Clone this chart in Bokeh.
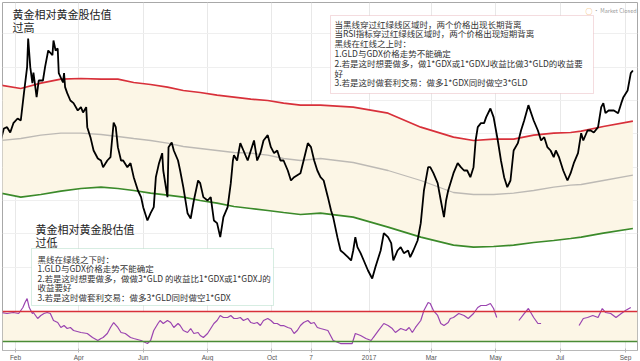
import math
import pandas as pd
from bokeh.plotting import figure
from bokeh.models import Range1d, FixedTicker, Span, BoxAnnotation, Label
from bokeh.embed import file_html
from bokeh.resources import INLINE

ORIGIN = pd.Timestamp("2016-02-01")
NAN = float("nan")

# axis ticks
tick_dates = ["2016-02-01", "2016-04-01", "2016-06-01", "2016-08-01", "2016-10-01",
              "2016-11-07", "2017-01-01", "2017-03-01", "2017-05-01", "2017-07-01",
              "2017-09-01"]
tick_labels = ["Feb", "Apr", "Jun", "Aug", "Oct", "7", "2017", "Mar", "May", "Jul", "Sep"]

# GLD / GDX ratio (days since 2016-02-01)
ratio_day = [-14, -11, -8, -5, -2, 2, 5, 8, 11, 12,
             14, 16, 17, 20, 22, 26, 28, 31, 35, 36,
             38, 40, 41, 45, 46, 47, 49, 52, 55, 59,
             62, 64, 67, 68, 71, 74, 78, 81, 83, 87,
             90, 93, 95, 97, 100, 102, 106, 109, 112, 116,
             119, 121, 125, 128, 131, 133, 136, 139, 140, 144,
             145, 148, 150, 154, 156, 159, 163, 166, 169, 173,
             175, 178, 182, 185, 188, 191, 194, 197, 201, 204,
             206, 207, 210, 213, 216, 220, 223, 226, 229, 232,
             235, 239, 242, 245, 248, 251, 254, 258, 261, 264,
             270, 273, 277, 280, 283, 286, 289, 292, 296, 299,
             301, 305, 308, 311, 315, 318, 320, 322, 324, 327,
             330, 334, 338, 341, 346, 349, 353, 356, 358, 362,
             365, 368, 372, 374, 377, 381, 384, 387, 391, 393,
             396, 400, 403, 406, 408, 410, 415, 419, 422, 425,
             428, 431, 434, 436, 438, 441, 444, 446, 450, 453,
             457, 460, 463, 466, 469, 472, 476, 479, 482, 486,
             491, 495, 498, 501, 504, 507, 510, 512, 515, 519,
             523, 526, 529, 533, 536, 538, 542, 545, 548, 552,
             555, 557, 559, 562, 567, 571, 574, 576, 580, 583,
             585]
ratio = [5.40, 5.58, 5.60, 5.52, 5.66, 5.73, 5.70, 6.11, 6.50, 6.93,
         6.50, 6.26, 6.42, 6.05, 6.30, 6.30, 6.50, 6.75, 6.68, 6.90,
         6.75, 6.78, 6.41, 6.27, 6.41, 6.20, 6.11, 6.00, 5.96, 5.85,
         5.90, 5.82, 5.90, 5.60, 5.45, 5.25, 5.13, 5.10, 5.00, 5.10,
         5.15, 5.67, 5.60, 5.30, 5.10, 5.10, 5.00, 5.06, 4.85, 4.65,
         4.55, 4.40, 4.20, 4.31, 4.40, 4.85, 5.06, 5.21, 4.95, 4.55,
         5.30, 5.37, 5.25, 5.10, 4.95, 4.70, 4.31, 4.23, 4.50, 4.80,
         4.76, 4.55, 4.50, 4.55, 4.20, 4.16, 3.95, 4.25, 4.40, 4.76,
         5.10, 5.18, 5.10, 5.36, 5.25, 5.10, 5.25, 5.40, 5.10, 5.21,
         5.40, 5.48, 5.30, 5.21, 5.25, 5.10, 5.10, 4.95, 4.80, 4.85,
         4.91, 5.10, 5.36, 5.30, 5.10, 4.95, 4.85, 4.80, 4.55, 4.35,
         4.25, 3.95, 3.75, 3.71, 3.65, 3.60, 3.75, 3.95, 3.80, 3.71,
         3.60, 3.45, 3.33, 3.50, 3.75, 4.01, 3.95, 3.86, 3.60, 3.75,
         3.80, 3.71, 3.75, 3.65, 3.75, 3.90, 4.16, 4.65, 5.00, 5.00,
         4.91, 4.76, 4.50, 4.25, 4.50, 4.65, 4.91, 5.06, 5.00, 4.95,
         4.95, 4.85, 5.00, 5.40, 5.60, 5.66, 5.66, 5.75, 5.88, 5.75,
         5.40, 5.10, 4.85, 4.70, 4.80, 5.25, 5.36, 5.55, 5.70, 5.93,
         5.70, 5.55, 5.40, 5.45, 5.30, 5.25, 5.15, 5.25, 5.15, 4.95,
         4.80, 4.91, 5.06, 5.21, 5.51, 5.40, 5.55, 5.55, 5.52, 5.60,
         5.90, 5.96, 5.81, 5.85, 5.85, 5.81, 5.96, 6.05, 6.15, 6.41,
         6.45]

# valuation band: upper (red), middle (grey), lower (green)
band_day = [-14, 5, 24, 43, 62, 81, 97, 112, 128, 144,
            159, 175, 191, 207, 223, 239, 254, 270, 289, 320,
            353, 384, 415, 434, 453, 472, 491, 510, 526, 536,
            557, 585]
band_upper = [6.23, 6.18, 6.26, 6.32, 6.33, 6.32, 6.32, 6.27, 6.24, 6.20,
              6.15, 6.12, 6.08, 6.05, 6.02, 6.00, 5.96, 5.93, 5.93, 5.90,
              5.81, 5.60, 5.45, 5.40, 5.42, 5.42, 5.48, 5.51, 5.52, 5.54,
              5.61, 5.69]
band_mid = [5.40, 5.43, 5.48, 5.51, 5.51, 5.49, 5.46, 5.43, 5.40, 5.36,
            5.31, 5.28, 5.25, 5.22, 5.21, 5.18, 5.13, 5.10, 5.13, 5.07,
            4.95, 4.80, 4.62, 4.59, 4.59, 4.61, 4.65, 4.70, 4.73, 4.74,
            4.80, 4.88]
band_lower = [4.61, 4.55, 4.59, 4.64, 4.68, 4.70, 4.68, 4.65, 4.61, 4.58,
              4.55, 4.50, 4.46, 4.41, 4.38, 4.35, 4.32, 4.29, 4.31, 4.25,
              4.10, 3.95, 3.83, 3.80, 3.81, 3.83, 3.87, 3.90, 3.93, 3.95,
              4.01, 4.08]

# RSI of the ratio (NaN = no data)
rsi_day = [-14, -8, -2, 3, 7, 9, 11, 13, 16, 17,
           21, 24, 27, 30, 33, 36, 40, 43, 46, 49,
           52, 55, 62, 68, 73, 78, 81, 83, 87, 90,
           93, 97, 100, 104, 109, 112, 119, 125, 128, 131,
           135, 137, 140, 144, 147, 150, 154, 156, 159, 163,
           166, 169, 173, 175, 178, 182, 185, 188, 191, 194,
           197, 201, 204, 207, 210, 213, 216, 220, 223, 226,
           229, 232, 235, 239, 242, 245, 248, 251, 254, 258,
           261, 264, 267, 270, 273, 277, 280, 283, 286, 289,
           296, 301, 308, 315, 319, 322, 327, 332, 337, 339,
           344, 349, 353, 357, 360, 365, 370, 373, 376, 379,
           384, 387, 391, 393, 396, 400, 403, 406, 410, 412,
           415, 420, 425, 429, 434, 438, 441, 446, 450, 453,
           456, NAN, 477, 482, 486, 491, 495, 498, NAN, 534,
           538, 542, 547, 552, 556, 559, 564, 569, 574, 578,
           583]
rsi = [68.7, 67.3, 68.7, 67.3, 75.3, 82.0, 87.3, 75.3, 67.3, 68.7,
       60.7, 64.7, 67.3, 68.7, 67.3, 58.0, 55.3, 48.7, 51.3, 47.3,
       48.7, 44.7, 42.0, 40.7, 35.3, 31.3, 34.0, 35.3, 40.7, 48.7,
       55.3, 48.7, 42.0, 40.7, 35.3, 34.0, 31.3, 27.3, 31.3, 44.7,
       54.0, 58.0, 54.0, 58.0, 55.3, 48.7, 54.0, 51.3, 44.7, 42.0,
       47.3, 40.7, 42.0, 38.0, 35.3, 40.7, 47.3, 54.0, 58.0, 64.7,
       62.0, 62.0, 64.7, 60.7, 60.7, 62.0, 58.0, 60.7, 55.3, 54.0,
       55.3, 51.3, 58.0, 60.7, 58.0, 54.0, 54.0, 51.3, 51.3, 48.7,
       47.3, 40.7, 44.7, 51.3, 55.3, 58.0, 54.0, 55.3, 48.7, 47.3,
       44.7, 31.3, 27.3, 27.3, 27.3, 40.7, 38.0, 34.0, 31.3, 35.3,
       44.7, 54.0, 51.3, 47.3, 42.0, 47.3, 44.7, 48.7, 42.0, 48.7,
       58.0, 71.3, 82.0, 80.7, 71.3, 64.7, 54.0, 51.3, 55.3, 60.7,
       62.0, 67.3, 64.7, 60.7, 67.3, 75.3, 78.0, 78.0, 80.7, 74.0,
       62.0, NAN, 58.0, 67.3, 74.0, 62.0, 54.0, 54.0, NAN, 51.3,
       60.7, 62.0, 64.7, 62.0, 74.0, 68.7, 67.3, 62.0, 67.3, 71.3,
       75.3]
rsi_upper, rsi_lower = 70, 30

# --- layout helpers: page pixel -> data coordinate -------------------------
def sx(px):
    return (px - 15) * 578 / 610

def sy(py):
    return 7.5 - 0.015 * py

def sr(py):
    return 70 - (py - 311) * 4 / 3

CJK = "Noto Sans CJK SC"
BEIGE = "#fcf6e6"

tick_days = [(pd.Timestamp(d) - ORIGIN).days for d in tick_dates]

p = figure(frame_width=635, frame_height=348, min_border_left=2, min_border_right=3,
           min_border_top=2, min_border_bottom=0,
           x_range=Range1d(sx(2), sx(637)), y_range=Range1d(sy(350), sy(2)),
           output_backend="svg", toolbar_location=None, y_axis_location=None)
p.extra_y_ranges = {"rsi": Range1d(sr(350), sr(2))}
p.outline_line_color = "#a8a8a8"
p.background_fill_color = "white"
p.border_fill_color = "white"

ax = p.xaxis[0]
ax.ticker = FixedTicker(ticks=tick_days)
ax.major_label_overrides = {d: lab for d, lab in zip(tick_days, tick_labels)}
ax.major_label_text_font = "Liberation Sans"
ax.major_label_text_font_size = "6.5px"
ax.major_label_text_color = "#555555"
ax.major_label_standoff = 1
ax.axis_line_color = "#b8b8b8"
ax.major_tick_line_color = "#b8b8b8"
ax.major_tick_in = 2
ax.major_tick_out = 2
ax.minor_tick_line_color = None

p.xgrid.ticker = FixedTicker(ticks=tick_days)
p.xgrid.grid_line_color = "#e8e8e8"
p.ygrid.ticker = FixedTicker(ticks=[3.5, 4.0, 4.5, 5.0, 5.5, 6.0, 6.5, 7.0])
p.ygrid.grid_line_color = "#efefef"

# valuation band
p.varea(x=band_day, y1=band_lower, y2=band_upper, fill_color=BEIGE)
p.line(band_day, band_mid, line_color="#bdbab5", line_width=1.3)
p.line(band_day, band_upper, line_color="#d8303a", line_width=1.7)
p.line(band_day, band_lower, line_color="#3b8a2a", line_width=1.7)
p.line(ratio_day, ratio, line_color="black", line_width=1.8)

# RSI sub panel
p.add_layout(BoxAnnotation(bottom=rsi_lower, top=rsi_upper, y_range_name="rsi",
                           fill_color=BEIGE, fill_alpha=1, line_color=None,
                           level="underlay"))
p.add_layout(Span(location=rsi_upper, dimension="width", y_range_name="rsi",
                  line_color="#d8303a", line_width=1.5))
p.add_layout(Span(location=rsi_lower, dimension="width", y_range_name="rsi",
                  line_color="#4a8c36", line_width=1.5))
p.line(rsi_day, rsi, y_range_name="rsi", line_color="#9a44b0", line_width=1.2)

# annotation boxes
p.add_layout(BoxAnnotation(left=sx(330), right=sx(593), top=sy(15), bottom=sy(93),
                           fill_color="white", fill_alpha=1,
                           line_color="#d98a95", line_width=1))
p.add_layout(BoxAnnotation(left=sx(31), right=sx(273), top=sy(248), bottom=sy(305),
                           fill_color="white", fill_alpha=1,
                           line_color="#79c4a0", line_width=1))


def text(px, py, s, size, color="#333333"):
    p.add_layout(Label(x=sx(px), y=sy(py), text=s, text_font=CJK,
                       text_font_size=size, text_color=color,
                       text_baseline="middle", text_align="left"))


text(12, 13, "黄金相对黄金股估值", "11px", "#222222")
text(12, 26, "过高", "11px", "#222222")
text(35, 228, "黄金相对黄金股估值", "11px", "#222222")
text(35, 241, "过低", "11px", "#222222")

upper_note = ["当黑线穿过红绿线区域时，两个价格出现长期背离",
              "当RSI指标穿过红绿线区域时，两个价格出现短期背离",
              "黑线在红线之上时：",
              "1.GLD与GDX价格走势不能确定",
              "2.若是这时想要做多，做1*GDX或1*GDXJ收益比做3*GLD的收益要",
              "好",
              "3.若是这时做套利交易：做多1*GDX同时做空3*GLD"]
for i, s in enumerate(upper_note):
    text(334, 23 + i * 9.8, s, "8.5px")

lower_note = ["黑线在绿线之下时：",
              "1.GLD与GDX价格走势不能确定",
              "2.若是这时想要做多，做做3*GLD 的收益比1*GDX或1*GDXJ的",
              "收益要好",
              "3.若是这时做套利交易：做多3*GLD同时做空1*GDX"]
for i, s in enumerate(lower_note):
    text(37, 258 + i * 9.5, s, "8.5px")

text(585, 10, "○", "7px", "#f0a040")
text(593, 10, "• Market Closed", "5.5px", "#9a9a9a")

open("out.html", "w").write(file_html(p, INLINE))
